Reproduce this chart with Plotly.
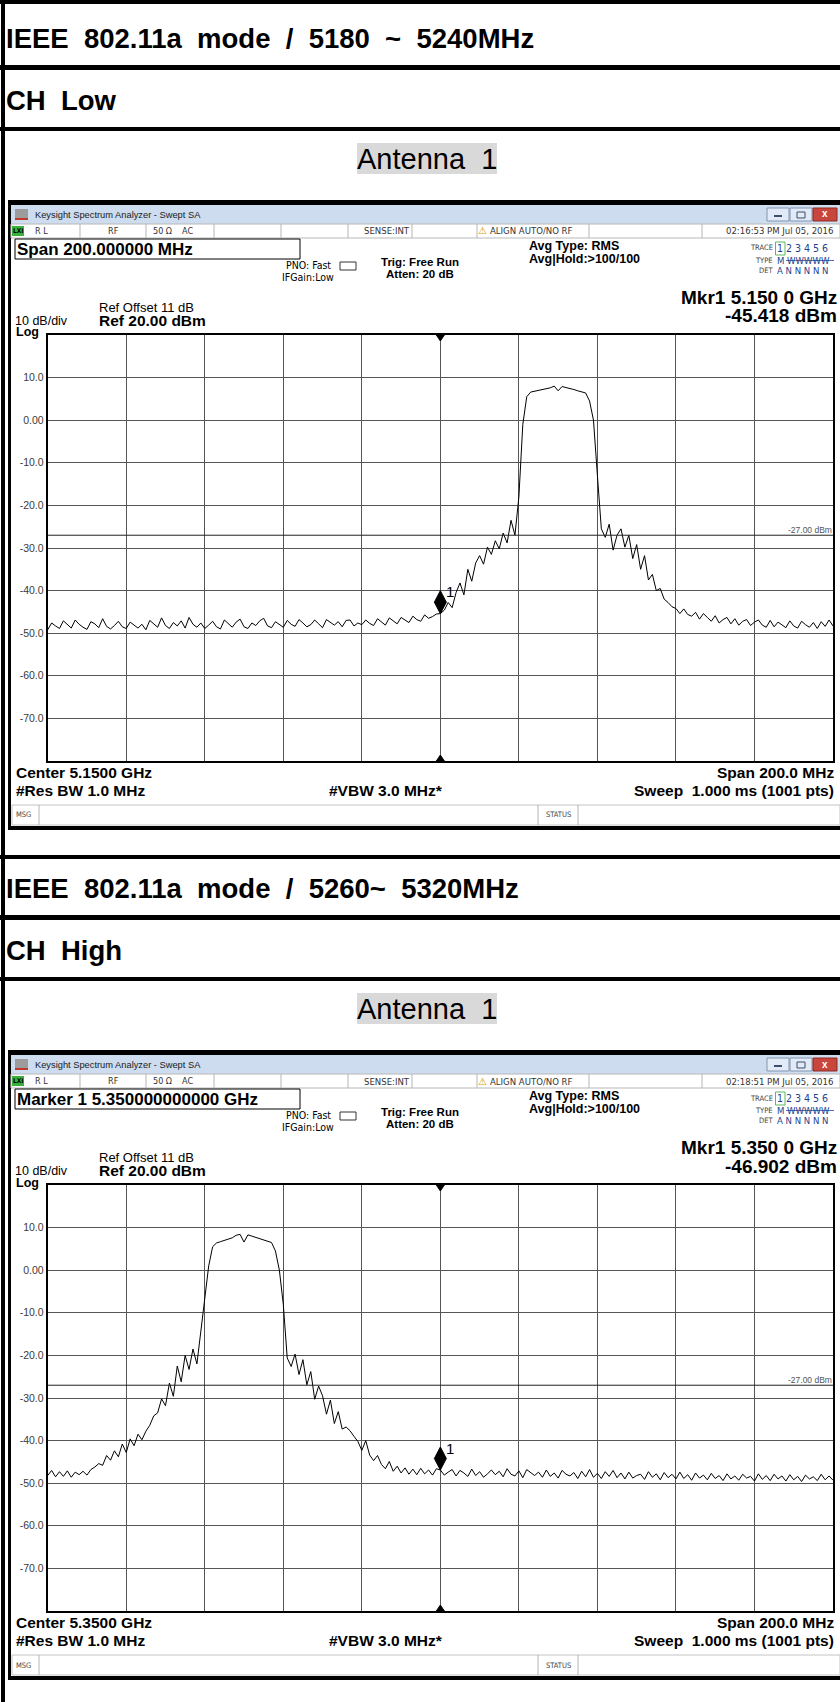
import plotly.graph_objects as go

# page size (px)
W, H = 840, 1702

# spectrum analyzer settings, same for both screenshots
SPAN_MHZ = 200
STEP_MHZ = 1
GRID_MHZ = 20
REF_LEVEL = 20
BOTTOM_LEVEL = -80
DISPLAY_LINE_DBM = -27.0
Y_TICKS = [10, 0, -10, -20, -30, -40, -50, -60, -70]
Y_TICK_TEXT = ["10.0", "0.00", "-10.0", "-20.0", "-30.0", "-40.0", "-50.0", "-60.0", "-70.0"]

# CH Low  (center 5150 MHz, 5050 .. 5250 MHz)
LOW_CENTER_MHZ = 5150
LOW_LEVEL_DBM = [
    -49.2, -47.6, -48.3, -48.9, -47.1, -48.0, -48.8, -46.9, -47.9, -48.6, -49.1, -47.3, -47.8, -48.7, -46.6, -48.4, -49.0, -48.2, -47.2, -48.5,
    -48.9, -47.4, -48.1, -48.8, -47.9, -49.2, -47.0, -47.7, -48.6, -46.4, -48.2, -48.9, -47.5, -48.3, -47.1, -48.8, -46.3, -47.9, -48.6, -47.6,
    -48.9, -48.1, -47.2, -48.5, -49.0, -46.9, -47.8, -48.6, -47.4, -46.7, -48.5, -48.9, -47.6, -48.2, -47.1, -46.5, -48.3, -48.7, -47.3, -48.0,
    -48.6, -47.0, -47.9, -48.4, -46.8, -47.6, -48.5, -48.0, -46.9, -47.8, -48.7, -46.8, -47.5, -48.1, -47.3, -48.5, -47.0, -46.9, -48.3, -47.6,
    -48.0, -46.9, -47.7, -48.2, -46.6, -47.4, -48.1, -46.4, -47.2, -47.8, -46.3, -47.0, -47.5, -46.0, -46.8, -47.2, -45.7, -46.5, -46.1, -45.5,
    -45.4, -44.6, -42.8, -44.0, -40.5, -38.2, -41.0, -35.0, -37.8, -33.5, -31.8, -33.8, -29.8, -31.5, -28.3, -30.2, -26.5, -28.8, -23.5, -27.0,
    -18.0, -1.0, 5.5, 6.6, 6.8, 7.0, 7.1, 7.3, 7.6, 8.0, 6.9, 7.9, 7.7, 7.4, 7.2, 6.9, 6.7, 6.4, 4.5, 0.0,
    -13.0, -25.5, -27.5, -24.4, -30.5, -27.0, -25.5, -29.8, -27.0, -32.5, -29.2, -35.0, -31.8, -37.5, -36.2, -40.0, -39.5, -42.0, -42.8, -43.8,
    -44.2, -45.4, -44.3, -45.6, -46.0, -45.1, -46.7, -45.4, -46.3, -47.2, -45.9, -47.6, -46.8, -46.3, -47.8, -46.6, -48.1, -47.2, -46.8, -48.2,
    -47.4, -46.9, -48.1, -48.6, -47.0, -48.5, -47.4, -48.1, -48.7, -47.1, -48.3, -48.8, -47.2, -48.0, -48.6, -47.5, -48.9, -47.3, -48.4, -46.9,
    -48.3,
]
LOW_MARKER_MHZ = 5150
LOW_MARKER_DBM = -45.418

# CH High  (center 5350 MHz, 5250 .. 5450 MHz)
HIGH_CENTER_MHZ = 5350
HIGH_LEVEL_DBM = [
    -48.2, -47.0, -48.5, -47.3, -48.4, -47.1, -48.6, -47.4, -48.0, -47.2, -48.1, -46.8, -46.2, -45.4, -45.8, -43.5, -44.6, -42.4, -43.8, -40.8,
    -42.8, -39.6, -41.2, -38.5, -39.8, -37.8, -36.4, -34.2, -33.5, -30.2, -31.8, -26.5, -29.6, -22.5, -26.2, -20.0, -23.3, -18.5, -22.0, -14.0,
    -6.0, 1.0, 5.5, 6.4, 6.7, 7.0, 7.3, 7.6, 8.2, 8.4, 6.6, 8.3, 8.0, 7.7, 7.4, 7.1, 6.9, 6.5, 4.5, 0.0,
    -8.0, -20.6, -22.6, -19.7, -24.5, -21.0, -26.9, -23.8, -30.3, -27.2, -29.5, -33.8, -30.5, -36.0, -33.2, -37.3, -36.8, -37.7, -39.0, -40.2,
    -42.3, -40.0, -43.4, -44.7, -43.5, -45.6, -46.6, -44.9, -47.2, -46.0, -47.6, -46.4, -47.9, -46.7, -48.0, -46.5, -47.8, -46.9, -48.1, -46.6,
    -46.9, -48.1, -47.4, -46.8, -48.3, -47.0, -47.6, -48.4, -46.7, -48.2, -47.3, -48.6, -47.8, -46.9, -48.0, -47.2, -48.5, -46.6, -47.9, -48.3,
    -47.1, -48.7, -46.8, -47.6, -48.2, -47.4, -48.6, -46.9, -48.4, -47.6, -48.8, -47.0, -47.9, -48.3, -47.5, -48.9, -47.2, -48.5, -46.8, -48.6,
    -47.7, -48.9, -47.3, -48.4, -47.0, -48.7, -47.6, -49.0, -47.4, -48.8, -48.2, -47.9, -49.1, -47.3, -48.6, -47.8, -49.2, -47.5, -48.7, -47.9,
    -49.0, -47.4, -48.9, -48.0, -49.3, -47.6, -48.8, -48.1, -49.2, -47.7, -48.9, -48.2, -49.4, -47.8, -49.0, -48.3, -49.3, -47.9, -48.8, -48.4,
    -49.5, -47.8, -49.1, -48.2, -49.4, -47.9, -49.0, -48.3, -49.5, -48.0, -49.2, -48.4, -49.6, -48.1, -49.0, -48.5, -49.4, -47.9, -49.2, -48.3,
    -49.3,
]
HIGH_MARKER_MHZ = 5350
HIGH_MARKER_DBM = -46.902

# texts
LOW_TITLE = "IEEE\u00a0 802.11a\u00a0 mode\u00a0 /\u00a0 5180\u00a0 ~\u00a0 5240MHz"
LOW_CHANNEL = "CH\u00a0 Low"
HIGH_TITLE = "IEEE\u00a0 802.11a\u00a0 mode\u00a0 /\u00a0 5260~\u00a0 5320MHz"
HIGH_CHANNEL = "CH\u00a0 High"
ANTENNA = "Antenna\u00a0 1"

SANS = "Liberation Sans, Arial, sans-serif"
NARROW = "Liberation Sans Narrow, Arial Narrow, DejaVu Sans Condensed, sans-serif"

# geometry of the first screenshot, the second one sits PANEL_DY lower
PANEL_DY = 850
PLOT_X0, PLOT_X1 = 47.7, 833
PLOT_Y0, PLOT_Y1 = 335, 761


def fx(x):
    return x / W


def fy(y):
    return 1 - y / H


def box(fig, x0, y0, x1, y1, fill=None, edge=None, width=0):
    fig.add_shape(type="rect", xref="paper", yref="paper",
                  x0=fx(x0), x1=fx(x1), y0=fy(y1), y1=fy(y0),
                  fillcolor=fill or "rgba(0,0,0,0)",
                  line=dict(color=edge or "rgba(0,0,0,0)", width=width))


def vline(fig, x, y0, y1, color="#b5b5b5"):
    fig.add_shape(type="line", xref="paper", yref="paper",
                  x0=fx(x), x1=fx(x), y0=fy(y0), y1=fy(y1),
                  line=dict(color=color, width=1))


def label(fig, x, y, s, size, anchor="left", bold=False, color="black", family=SANS):
    fig.add_annotation(xref="paper", yref="paper", x=fx(x), y=fy(y),
                       text="<b>%s</b>" % s if bold else s, showarrow=False,
                       xanchor=anchor, yanchor="middle", borderpad=0, borderwidth=0,
                       font=dict(size=size, color=color, family=family))


def draw_heading(fig, dy, title, channel, top_line):
    box(fig, 0, top_line, W, top_line + 4, fill="black")
    box(fig, 0, 65 + dy, W, 70 + dy, fill="black")
    box(fig, 0, 127 + dy, W, 131 + dy, fill="black")
    label(fig, 6, 38 + dy, title, 27.5, bold=True)
    label(fig, 6, 100 + dy, channel, 27.5, bold=True)
    box(fig, 357, 143 + dy, 497, 174 + dy, fill="#d9d9d9")
    label(fig, 427, 159 + dy, ANTENNA, 29, anchor="center")


def draw_analyzer(fig, n, dy, center, levels, mkr_mhz, mkr_dbm, active_text, clock):
    xname = "x" if n == 1 else "x%d" % n
    yname = "y" if n == 1 else "y%d" % n

    # window frame
    box(fig, 8, 200 + dy, W, 205 + dy, fill="black")
    box(fig, 8, 826 + dy, W, 830 + dy, fill="black")
    box(fig, 8, 200 + dy, 11, 830 + dy, fill="black")

    # title bar
    box(fig, 11, 205 + dy, W, 224 + dy, fill="#cddcee")
    box(fig, 15, 209 + dy, 28, 220 + dy, fill="#9c9c9c")
    box(fig, 15, 218 + dy, 28, 220 + dy, fill="#c0392b")
    label(fig, 35, 214.5 + dy, "Keysight Spectrum Analyzer - Swept SA", 9.3, color="#1b1b1b")
    box(fig, 767, 208 + dy, 789, 221 + dy, fill="#e1eaf6", edge="#8296b3", width=1)
    box(fig, 790, 208 + dy, 812, 221 + dy, fill="#e1eaf6", edge="#8296b3", width=1)
    box(fig, 813, 208 + dy, 837, 221 + dy, fill="#c9463c", edge="#8c2a22", width=1)
    box(fig, 774, 215 + dy, 782, 217 + dy, fill="#3d4f6b")
    box(fig, 797, 212 + dy, 805, 218 + dy, edge="#3d4f6b", width=1)
    label(fig, 825, 214 + dy, "x", 10, anchor="center", bold=True, color="white")

    # status row
    box(fig, 11, 224 + dy, W, 238 + dy, fill="white", edge="#b8b8b8", width=1)
    box(fig, 12, 226 + dy, 24, 236 + dy, fill="#39b239")
    label(fig, 18, 231 + dy, "LXI", 6.5, anchor="center", bold=True, family=NARROW)
    label(fig, 35, 231 + dy, "R L", 9, color="#333", family=NARROW)
    label(fig, 113, 231 + dy, "RF", 9, anchor="center", color="#333", family=NARROW)
    label(fig, 153, 231 + dy, "50 \u03a9", 9, color="#333", family=NARROW)
    label(fig, 182, 231 + dy, "AC", 9, color="#333", family=NARROW)
    label(fig, 364, 231 + dy, "SENSE:INT", 9.5, color="#333", family=NARROW)
    label(fig, 478, 231 + dy, "\u26a0", 10, color="#d9a400", family="DejaVu Sans")
    label(fig, 490, 231 + dy, "ALIGN AUTO/NO RF", 9.5, color="#333", family=NARROW)
    label(fig, 833, 231 + dy, clock, 9.5, anchor="right", color="#333", family=NARROW)
    for sx in (80, 146, 214, 281, 348, 412, 477, 589, 702):
        vline(fig, sx, 224 + dy, 238 + dy)

    # settings block
    box(fig, 15, 239 + dy, 300, 259 + dy, edge="black", width=1)
    label(fig, 17, 249 + dy, active_text, 17, bold=True)
    label(fig, 308, 265 + dy, "PNO: Fast", 10.5, anchor="center", family=NARROW)
    label(fig, 308, 277 + dy, "IFGain:Low", 10.5, anchor="center", family=NARROW)
    box(fig, 340, 262 + dy, 356, 270 + dy, edge="#333", width=1)
    label(fig, 420, 262 + dy, "Trig: Free Run", 11.5, anchor="center", bold=True)
    label(fig, 420, 274 + dy, "Atten: 20 dB", 11.5, anchor="center", bold=True)
    label(fig, 529, 246 + dy, "Avg Type: RMS", 12.5, bold=True)
    label(fig, 529, 259 + dy, "Avg|Hold:&gt;100/100", 12.5, bold=True)
    label(fig, 773, 248 + dy, "TRACE", 7.5, anchor="right", color="#444", family=NARROW)
    label(fig, 773, 260 + dy, "TYPE", 7.5, anchor="right", color="#444", family=NARROW)
    label(fig, 773, 270 + dy, "DET", 7.5, anchor="right", color="#444", family=NARROW)
    box(fig, 775.5, 242 + dy, 785, 255 + dy, edge="#5cb85c", width=1)
    label(fig, 777, 248 + dy, "1 2 3 4 5 6", 10.5, color="#1f3f8f", family=NARROW)
    label(fig, 777, 260 + dy, "M WWWWW", 9.5, color="#1f3f8f", family=NARROW)
    box(fig, 786, 260 + dy, 834, 260.8 + dy, fill="#1f3f8f")
    label(fig, 777, 270.5 + dy, "A N N N N N", 9.5, color="#1f3f8f", family=NARROW)
    label(fig, 837, 297 + dy, "Mkr1 %.3f 0 GHz" % (mkr_mhz / 1000), 19, anchor="right", bold=True)
    label(fig, 837, 316 + dy, "%.3f dBm" % mkr_dbm, 19, anchor="right", bold=True)
    label(fig, 99, 307 + dy, "Ref Offset 11 dB", 13)
    label(fig, 99, 320.5 + dy, "Ref %.2f dBm" % REF_LEVEL, 15.5, bold=True)
    label(fig, 15, 320.5 + dy, "10 dB/div", 12.5)
    label(fig, 16, 332.5 + dy, "Log", 12.5, bold=True)

    # trace area
    start = center - SPAN_MHZ / 2
    freqs = [start + i * STEP_MHZ for i in range(len(levels))]
    fig.add_trace(go.Scatter(x=freqs, y=levels, xaxis=xname, yaxis=yname, mode="lines",
                             line=dict(color="black", width=1), hoverinfo="skip"))
    axis_x = dict(domain=[fx(PLOT_X0), fx(PLOT_X1)], range=[start, start + SPAN_MHZ],
                  tickvals=list(range(int(start), int(start + SPAN_MHZ) + 1, GRID_MHZ)),
                  showticklabels=False, ticks="", showgrid=True, gridcolor="#555555",
                  gridwidth=1, zeroline=False, showline=True, linecolor="black",
                  linewidth=2, mirror=True, anchor=yname, fixedrange=True)
    axis_y = dict(domain=[fy(PLOT_Y1 + dy), fy(PLOT_Y0 + dy)], range=[BOTTOM_LEVEL, REF_LEVEL],
                  tickvals=Y_TICKS, ticktext=Y_TICK_TEXT, ticks="", showgrid=True,
                  gridcolor="#555555", gridwidth=1, zeroline=False, showline=True,
                  linecolor="black", linewidth=2, mirror=True, anchor=xname,
                  tickfont=dict(size=10.5, color="#3a3a3a", family=SANS), fixedrange=True)
    fig.update_layout(**{("xaxis" if n == 1 else "xaxis%d" % n): axis_x,
                         ("yaxis" if n == 1 else "yaxis%d" % n): axis_y})

    # display line
    fig.add_shape(type="line", xref=xname + " domain", yref=yname, x0=0, x1=1,
                  y0=DISPLAY_LINE_DBM, y1=DISPLAY_LINE_DBM, line=dict(color="#222", width=1))
    fig.add_annotation(xref=xname + " domain", yref=yname, x=1, y=DISPLAY_LINE_DBM,
                       text="%.2f dBm" % DISPLAY_LINE_DBM, showarrow=False, xanchor="right",
                       yanchor="bottom", xshift=-1, borderpad=0, borderwidth=0,
                       font=dict(size=8.5, color="#555", family=SANS))

    # center frequency triangles
    fig.add_shape(type="path", xref=xname, yref=yname, xsizemode="pixel", ysizemode="pixel",
                  xanchor=center, yanchor=REF_LEVEL, path="M -4 0 L 4 0 L 0 -6 Z",
                  fillcolor="black", line=dict(color="black", width=1))
    fig.add_shape(type="path", xref=xname, yref=yname, xsizemode="pixel", ysizemode="pixel",
                  xanchor=center, yanchor=BOTTOM_LEVEL, path="M -4 0 L 4 0 L 0 6 Z",
                  fillcolor="black", line=dict(color="black", width=1))

    # marker 1
    fig.add_shape(type="path", xref=xname, yref=yname, xsizemode="pixel", ysizemode="pixel",
                  xanchor=mkr_mhz, yanchor=mkr_dbm, path="M 0 0 L 6 11.5 L 0 23 L -6 11.5 Z",
                  fillcolor="black", line=dict(color="black", width=1))
    fig.add_annotation(xref=xname, yref=yname, x=mkr_mhz, y=mkr_dbm, text="1",
                       showarrow=False, xanchor="center", yanchor="middle",
                       xshift=10, yshift=22, font=dict(size=15, color="black", family=SANS))

    # bottom annotations
    label(fig, 16, 772 + dy, "Center %.4f GHz" % (center / 1000), 15.5, bold=True)
    label(fig, 16, 790 + dy, "#Res BW 1.0 MHz", 15.5, bold=True)
    label(fig, 386, 790 + dy, "#VBW 3.0 MHz*", 15.5, anchor="center", bold=True)
    label(fig, 834, 772 + dy, "Span %.1f MHz" % SPAN_MHZ, 15.5, anchor="right", bold=True)
    label(fig, 834, 790 + dy, "Sweep\u00a0 1.000 ms (1001 pts)", 15.5, anchor="right", bold=True)

    # message row
    box(fig, 12, 805 + dy, W, 825 + dy, fill="white", edge="#c4c4c4", width=1)
    vline(fig, 39, 805 + dy, 825 + dy)
    vline(fig, 538, 805 + dy, 825 + dy)
    vline(fig, 578, 805 + dy, 825 + dy)
    label(fig, 16, 815 + dy, "MSG", 7.5, color="#444", family=NARROW)
    label(fig, 558, 815 + dy, "STATUS", 7.5, anchor="center", color="#444", family=NARROW)


fig = go.Figure()

# page border on the left
box(fig, 1, 0, 5, H, fill="black")

draw_heading(fig, 0, LOW_TITLE, LOW_CHANNEL, 0)
draw_analyzer(fig, 1, 0, LOW_CENTER_MHZ, LOW_LEVEL_DBM, LOW_MARKER_MHZ, LOW_MARKER_DBM,
              "Span 200.000000 MHz", "02:16:53 PM Jul 05, 2016")

draw_heading(fig, PANEL_DY, HIGH_TITLE, HIGH_CHANNEL, 855)
draw_analyzer(fig, 2, PANEL_DY, HIGH_CENTER_MHZ, HIGH_LEVEL_DBM, HIGH_MARKER_MHZ, HIGH_MARKER_DBM,
              "Marker 1 5.350000000000 GHz", "02:18:51 PM Jul 05, 2016")

fig.update_layout(width=W, height=H, margin=dict(l=0, r=0, t=0, b=0),
                  paper_bgcolor="white", plot_bgcolor="white", showlegend=False)

# the page is exactly the figure: no body margin, no scrollbar
fig.write_html("out.html", config={"displayModeBar": False},
               post_script="document.body.style.margin='0';"
                           "document.documentElement.style.overflow='hidden';")
